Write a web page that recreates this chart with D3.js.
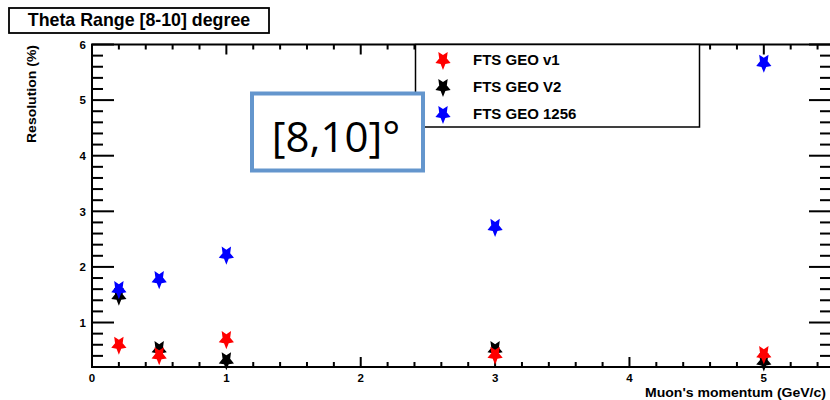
<!DOCTYPE html>
<html>
<head>
<meta charset="utf-8">
<script src="https://cdn.jsdelivr.net/npm/d3@7"></script>
<style>
  html, body { margin: 0; padding: 0; background: #fff; }
  svg { display: block; }
  .lbl { font-family: "Liberation Sans", Arial, sans-serif; font-weight: bold; fill: #000; }
</style>
</head>
<body>
<script>
// Muon momentum points (GeV/c)
const momentum = [0.2, 0.5, 1, 3, 5];

// Resolution (%) for each geometry
const seriesNames = ["FTS GEO v1", "FTS GEO V2", "FTS GEO 1256"];
const geoV1   = [0.60, 0.41, 0.70, 0.42, 0.43];
const geoV2   = [1.48, 0.52, 0.32, 0.52, 0.30];
const geo1256 = [1.60, 1.78, 2.22, 2.72, 5.67];
const seriesColors = ["#ff0000", "#000000", "#0000ff"];

// Axis ticks
const xMajorTicks = [0, 1, 2, 3, 4, 5];
const xMinorTicks = d3.range(1, 28).map(i => +(i * 0.2).toFixed(1)).filter(v => !xMajorTicks.includes(v));
const yMajorTicks = [1, 2, 3, 4, 5, 6];
const yMinorTicks = d3.range(1, 30).map(i => +(i * 0.2).toFixed(1)).filter(v => !yMajorTicks.includes(v));

const W = 830, H = 400;
const svg = d3.select("body").append("svg").attr("width", W).attr("height", H);

const x = d3.scaleLinear().domain([0, 5.5]).range([92, 831]);
const y = d3.scaleLinear().domain([0.2, 6]).range([367, 44.5]);

const x0 = x.range()[0], x1 = x.range()[1];
const y0 = y.range()[0], y1 = y.range()[1];

// Inward tick marks on all four sides, drawn as thin filled bars
const tickG = svg.append("g").attr("fill", "#000");
function xTicks(values, len) {
  values.forEach(v => {
    const px = x(v);
    tickG.append("rect").attr("x", px - 1).attr("y", y0 - len).attr("width", 2).attr("height", len);
    tickG.append("rect").attr("x", px - 1).attr("y", y1).attr("width", 2).attr("height", len);
  });
}
function yTicks(values, len) {
  values.forEach(v => {
    const py = y(v);
    tickG.append("rect").attr("x", x0).attr("y", py - 1).attr("width", len).attr("height", 2);
    tickG.append("rect").attr("x", x1 - len).attr("y", py - 1).attr("width", len).attr("height", 2);
  });
}
xTicks(xMajorTicks, 10);
xTicks(xMinorTicks, 5);
yTicks(yMajorTicks, 22);
yTicks(yMinorTicks, 11);

// Frame
svg.append("rect").attr("x", x0).attr("y", y1).attr("width", x1 - x0).attr("height", y0 - y1)
  .attr("fill", "none").attr("stroke", "#000").attr("stroke-width", 2);

// Tick labels
svg.append("g").selectAll("text").data(xMajorTicks).join("text")
  .attr("class", "lbl").style("font-size", "11.5px")
  .attr("x", d => x(d)).attr("y", y0 + 14.5).attr("text-anchor", "middle")
  .text(d3.format("d"));
svg.append("g").selectAll("text").data(yMajorTicks).join("text")
  .attr("class", "lbl").style("font-size", "11.5px")
  .attr("x", x0 - 6).attr("y", d => y(d) + 4.2).attr("text-anchor", "end")
  .text(d3.format("d"));

// Axis titles
svg.append("text").attr("class", "lbl")
  .attr("x", 826).attr("y", 397).attr("text-anchor", "end")
  .style("font-size", "12px")
  .attr("textLength", 181).attr("lengthAdjust", "spacingAndGlyphs")
  .text("Muon's momentum (GeV/c)");
svg.append("text").attr("class", "lbl")
  .attr("transform", "translate(36,45) rotate(-90)")
  .attr("text-anchor", "end")
  .style("font-size", "12px")
  .attr("textLength", 98).attr("lengthAdjust", "spacingAndGlyphs")
  .text("Resolution (%)");

// Title box
svg.append("rect").attr("x", 9).attr("y", 8).attr("width", 260).attr("height", 25)
  .attr("fill", "#fff").attr("stroke", "#000").attr("stroke-width", 1.8);
svg.append("text").attr("class", "lbl")
  .attr("x", 139).attr("y", 25.5).attr("text-anchor", "middle")
  .style("font-size", "17.8px")
  .text("Theta Range [8-10] degree");

// Chunky five-point star symbol (inner radius half of outer)
const fatStar = {
  draw(context, size) {
    const R = Math.sqrt(size / 1.5);
    const r = R * 0.5;
    for (let i = 0; i < 10; i++) {
      const a = -Math.PI / 2 + i * Math.PI / 5;
      const rad = i % 2 === 0 ? R : r;
      const px = rad * Math.cos(a), py = rad * Math.sin(a);
      if (i === 0) context.moveTo(px, py); else context.lineTo(px, py);
    }
    context.closePath();
  }
};
const starPath = d3.symbol().type(fatStar).size(150)();
function marker(sel, color) {
  sel.append("path").attr("d", starPath).attr("fill", color);
}

// Data points: V2 underneath, then v1, then 1256 on top
const seriesValues = [geoV1, geoV2, geo1256];
const drawOrder = [1, 0, 2];
drawOrder.forEach(si => {
  const g = svg.append("g");
  momentum.forEach((m, i) => {
    g.append("g")
      .attr("transform", `translate(${x(m)},${y(seriesValues[si][i])}) rotate(180) scale(0.8,1)`)
      .call(marker, seriesColors[si]);
  });
});

// Legend
const legend = svg.append("g");
legend.append("rect").attr("x", 415.5).attr("y", 44.5).attr("width", 284).attr("height", 82.5)
  .attr("fill", "#fff").attr("stroke", "#000").attr("stroke-width", 1.5);
seriesNames.forEach((name, i) => {
  const cy = 60 + i * 27;
  legend.append("g")
    .attr("transform", `translate(443,${cy}) rotate(180) scale(0.8,1)`)
    .call(marker, seriesColors[i]);
  legend.append("text").attr("class", "lbl")
    .attr("x", 473).attr("y", cy + 5)
    .style("font-size", "15px")
    .text(name);
});

// Annotation box
svg.append("rect").attr("x", 252).attr("y", 93.5).attr("width", 171).attr("height", 77)
  .attr("fill", "#fff").attr("stroke", "#6496cd").attr("stroke-width", 4);
svg.append("text")
  .attr("x", 336).attr("y", 151.5).attr("text-anchor", "middle")
  .style("font-family", "'Open Sans', 'Liberation Sans', sans-serif")
  .style("font-size", "42px").style("fill", "#000")
  .text("[8,10]°");
</script>
</body>
</html>
